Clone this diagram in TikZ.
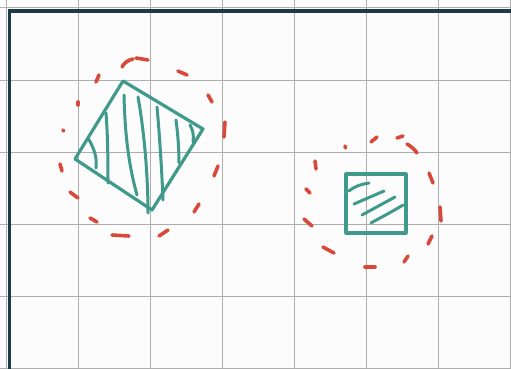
\documentclass[tikz,border=0pt]{standalone}
\begin{document}
\begin{tikzpicture}[x=1pt,y=-1pt,
  gridline/.style={draw=black!32,line width=1pt},
  frameline/.style={draw=frameC,line width=3.8pt},
  shapeline/.style={draw=tealC,line width=3.2pt,line join=round,line cap=round},
  hatchline/.style={draw=tealC,line width=3pt,line cap=round},
  reddash/.style={draw=redC,line width=3.6pt,line cap=round}]
\definecolor{tealC}{HTML}{3F9A8B}
\definecolor{redC}{HTML}{D9493A}
\definecolor{frameC}{HTML}{1D3A48}
\definecolor{bgC}{HTML}{FCFCFC}
\useasboundingbox (0,0) rectangle (511,369);
\fill[bgC] (0,0) rectangle (511,369);
% grid
\foreach \gx in {6,78,150,222,294,366,438,510} \draw[gridline] (\gx,0) -- (\gx,369);
\foreach \gy in {8,80,152,224,296,368} \draw[gridline] (0,\gy) -- (511,\gy);
% frame
\draw[frameline] (9.5,369) -- (9.5,11) -- (511,11);
% diamond
\draw[shapeline] (123,81) -- (203,129) -- (152,210) -- (75,159) -- cycle;
\draw[hatchline] (88,138) .. controls (95,150) and (97,158) .. (96,168);
\draw[hatchline] (106,113) .. controls (108,140) and (108,165) .. (108,183);
\draw[hatchline] (124,95) .. controls (125,140) and (130,170) .. (137,195);
\draw[hatchline] (138,97) .. controls (144,130) and (148,175) .. (148,213);
\draw[hatchline] (157,107) .. controls (160,140) and (162,175) .. (163,200);
\draw[hatchline] (176,120) .. controls (178,135) and (179,150) .. (179,163);
\draw[hatchline] (190,125) .. controls (193,130) and (194,136) .. (193,142);
% red dashes big circle
\draw[reddash] (122,67) .. controls (124,63) and (128,60) .. (133,59);
\draw[reddash] (136,58) -- (148,60);
\draw[reddash] (178,71) -- (187,75);
\draw[reddash] (208,95) -- (212,102);
\draw[reddash] (225,122) -- (224,137);
\draw[reddash] (218,166) -- (214,176);
\draw[reddash] (199,204) -- (194,212);
\draw[reddash] (168,230) -- (159,236);
\draw[reddash] (112,235) -- (129,236);
\draw[reddash] (90,218) -- (97,222);
\draw[reddash] (70,192) -- (78,198);
\draw[reddash] (60,164) -- (62,171);
\draw[reddash] (63,130) -- (63.5,131);
\draw[reddash] (78,102) -- (78,105);
\draw[reddash] (96,82) -- (99,75);
% square
\draw[shapeline] (346,174) rectangle (406,233);
\draw[hatchline] (349,191) .. controls (355,186) and (362,184) .. (369,183);
\draw[hatchline] (354,204) -- (384,191);
\draw[hatchline] (362,215) -- (395,197);
\draw[hatchline] (371,223) .. controls (376,220) and (390,213) .. (403,205);
% red dashes small circle
\draw[reddash] (345,146) -- (345.5,148);
\draw[reddash] (371,142) -- (377,137);
\draw[reddash] (397,138) -- (403,136);
\draw[reddash] (407,144) .. controls (411,146) and (415,150) .. (417,153);
\draw[reddash] (429,173) -- (433,183);
\draw[reddash] (440,207) -- (441,221);
\draw[reddash] (432,236) -- (428,244);
\draw[reddash] (408,256) -- (404,262);
\draw[reddash] (365,267) -- (375,267);
\draw[reddash] (323,247) -- (334,253);
\draw[reddash] (304,219) -- (312,226);
\draw[reddash] (306,189) -- (310,193);
\draw[reddash] (315,161) -- (316,169);
\end{tikzpicture}
\end{document}
